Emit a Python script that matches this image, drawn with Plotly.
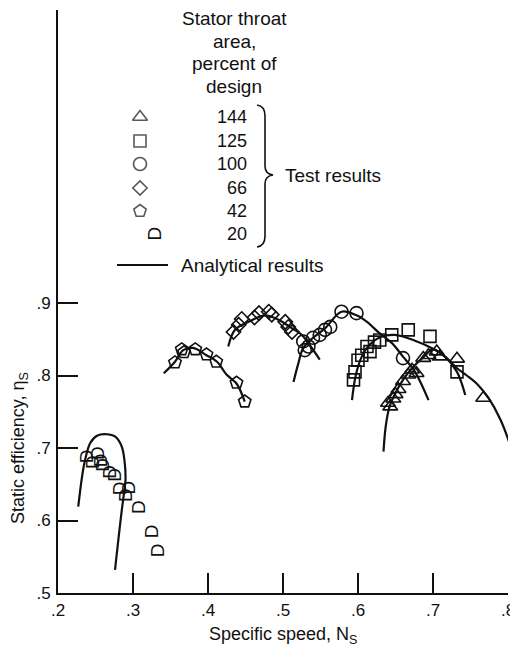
import plotly.graph_objects as go

# ---------------- data ----------------
# Test results: specific speed Ns, static efficiency eta_s, by stator throat area (% of design)
ns_144 = [0.640, 0.643, 0.647, 0.650, 0.654, 0.660, 0.667, 0.672, 0.678, 0.687, 0.694, 0.705, 0.709, 0.732, 0.767]
eta_144 = [0.762, 0.757, 0.768, 0.774, 0.781, 0.792, 0.801, 0.808, 0.803, 0.824, 0.828, 0.833, 0.826, 0.823, 0.769]

ns_125 = [0.594, 0.596, 0.600, 0.605, 0.612, 0.616, 0.622, 0.629, 0.645, 0.667, 0.696, 0.732]
eta_125 = [0.794, 0.805, 0.821, 0.828, 0.840, 0.833, 0.846, 0.849, 0.856, 0.863, 0.854, 0.805]

ns_100 = [0.527, 0.529, 0.534, 0.540, 0.549, 0.556, 0.563, 0.578, 0.598, 0.660]
eta_100 = [0.847, 0.835, 0.840, 0.852, 0.856, 0.863, 0.867, 0.888, 0.886, 0.824]

ns_66 = [0.434, 0.441, 0.445, 0.462, 0.468, 0.481, 0.485, 0.503, 0.507, 0.512]
eta_66 = [0.860, 0.870, 0.878, 0.880, 0.886, 0.888, 0.884, 0.874, 0.867, 0.860]

ns_42 = [0.356, 0.365, 0.368, 0.383, 0.398, 0.411, 0.438, 0.449]
eta_42 = [0.818, 0.836, 0.832, 0.836, 0.829, 0.819, 0.790, 0.764]

ns_20 = [0.238, 0.247, 0.252, 0.256, 0.260, 0.269, 0.276, 0.283, 0.289, 0.294, 0.307, 0.325, 0.332]
eta_20 = [0.688, 0.681, 0.693, 0.683, 0.677, 0.667, 0.663, 0.645, 0.635, 0.645, 0.619, 0.585, 0.559]

# Analytical results (curves)
an_ns_144 = [0.634, 0.637, 0.642, 0.650, 0.660, 0.672, 0.688, 0.700, 0.716, 0.732, 0.745, 0.760, 0.774, 0.790, 0.803]
an_eta_144 = [0.695, 0.730, 0.757, 0.776, 0.794, 0.810, 0.826, 0.836, 0.826, 0.810, 0.800, 0.787, 0.769, 0.739, 0.704]

an_ns_125 = [0.592, 0.597, 0.605, 0.615, 0.630, 0.649, 0.676, 0.698, 0.716, 0.732, 0.743]
an_eta_125 = [0.766, 0.800, 0.826, 0.842, 0.853, 0.856, 0.848, 0.838, 0.826, 0.805, 0.773]

an_ns_100 = [0.514, 0.520, 0.527, 0.540, 0.556, 0.578, 0.598, 0.612, 0.629, 0.645, 0.660, 0.676, 0.694]
an_eta_100 = [0.791, 0.815, 0.838, 0.852, 0.865, 0.888, 0.883, 0.874, 0.858, 0.845, 0.826, 0.805, 0.766]

an_ns_66 = [0.427, 0.436, 0.454, 0.476, 0.494, 0.512, 0.525, 0.537, 0.549]
an_eta_66 = [0.840, 0.863, 0.874, 0.883, 0.877, 0.865, 0.856, 0.840, 0.822]

an_ns_42 = [0.341, 0.356, 0.367, 0.380, 0.398, 0.412, 0.425, 0.438, 0.449]
an_eta_42 = [0.803, 0.819, 0.835, 0.838, 0.828, 0.819, 0.801, 0.789, 0.764]

an_ns_20 = [0.227, 0.232, 0.236, 0.243, 0.252, 0.265, 0.276, 0.285, 0.289, 0.290, 0.288, 0.285, 0.280, 0.276]
an_eta_20 = [0.619, 0.660, 0.683, 0.707, 0.717, 0.719, 0.716, 0.702, 0.679, 0.656, 0.638, 0.614, 0.569, 0.532]

x_ticks = [0.2, 0.3, 0.4, 0.5, 0.6, 0.7, 0.8]
x_labels = [".2", ".3", ".4", ".5", ".6", ".7", ".8"]
y_ticks = [0.5, 0.6, 0.7, 0.8, 0.9]
y_labels = [".5", ".6", ".7", ".8", ".9"]

legend_areas = ["144", "125", "100", "66", "42", "20"]

# ---------------- layout helpers ----------------
# the page body has an 8px margin, so the figure is made 8px smaller and all
# page-pixel positions are shifted by that offset
OFF = 8
PAGE_W, PAGE_H = 518, 646
W, H = PAGE_W - OFF, PAGE_H - OFF
AX_L, AX_R, AX_T, AX_B = 58, 508, 10, 593          # plot area in page pixels
L, R, T, B = AX_L - OFF, PAGE_W - AX_R, AX_T - OFF, PAGE_H - AX_B
PW, PH = AX_R - AX_L, AX_B - AX_T
FONT = "Liberation Sans, Arial, sans-serif"
BLACK = "#111111"


def fx(p):
    return (p - AX_L) / PW


def fy(p):
    return (AX_B - p) / PH


fig = go.Figure()

# analytical curves
for xs, ys in [(an_ns_144, an_eta_144), (an_ns_125, an_eta_125), (an_ns_100, an_eta_100),
               (an_ns_66, an_eta_66), (an_ns_42, an_eta_42), (an_ns_20, an_eta_20)]:
    fig.add_trace(go.Scatter(x=xs, y=ys, mode="lines", line=dict(color=BLACK, width=2.2, shape="spline"),
                             showlegend=False, hoverinfo="skip"))

# test results markers
series = [
    (ns_144, eta_144, "triangle-up-open", 13),
    (ns_125, eta_125, "square-open", 12),
    (ns_100, eta_100, "circle-open", 13),
    (ns_66, eta_66, "diamond-open", 11),
    (ns_42, eta_42, "pentagon-open", 13),
]
for xs, ys, sym, sz in series:
    fig.add_trace(go.Scatter(x=xs, y=ys, mode="markers",
                             marker=dict(symbol=sym, size=sz, color=BLACK, line=dict(width=1.6, color=BLACK)),
                             showlegend=False, cliponaxis=False))

annotations = []
# 20 % : arch-shaped symbol drawn as a rotated "D"
for xv, yv in zip(ns_20, eta_20):
    annotations.append(dict(x=xv, y=yv, xref="x", yref="y", text="D", textangle=-90, showarrow=False,
                            font=dict(family=FONT, size=19, color=BLACK)))

# ---------------- legend (custom) ----------------
leg_rows = [117, 141, 164, 188, 211, 234]
leg_syms = [("triangle-up-open", 13), ("square-open", 12), ("circle-open", 13), ("diamond-open", 11),
            ("pentagon-open", 13)]
fig.add_trace(go.Scatter(x=[fx(140)] * 5, y=[fy(r) for r in leg_rows[:5]], mode="markers",
                         xaxis="x2", yaxis="y2",
                         marker=dict(symbol=[s for s, _ in leg_syms], size=[z for _, z in leg_syms], color=BLACK,
                                     line=dict(width=1.6, color=BLACK)),
                         showlegend=False, hoverinfo="skip", cliponaxis=False))
annotations.append(dict(x=fx(141), y=fy(leg_rows[5]), xref="paper", yref="paper", text="D", textangle=-90,
                        showarrow=False, font=dict(family=FONT, size=19, color=BLACK)))

for r, lab in zip(leg_rows, legend_areas):
    annotations.append(dict(x=fx(249), y=fy(r), xref="paper", yref="paper", text=lab, xanchor="right",
                            yanchor="middle", showarrow=False, font=dict(family=FONT, size=18, color=BLACK)))

for txt, yy in [("Stator throat", 18), ("area,", 41), ("percent of", 64), ("design", 87)]:
    annotations.append(dict(x=fx(234), y=fy(yy), xref="paper", yref="paper", text=txt, xanchor="center",
                            yanchor="middle", showarrow=False, font=dict(family=FONT, size=19, color=BLACK)))

annotations.append(dict(x=fx(283), y=fy(175), xref="paper", yref="paper", text="Test results", xanchor="left",
                        yanchor="middle", showarrow=False, font=dict(family=FONT, size=19, color=BLACK)))
annotations.append(dict(x=fx(179), y=fy(265), xref="paper", yref="paper", text="Analytical results",
                        xanchor="left", yanchor="middle", showarrow=False,
                        font=dict(family=FONT, size=19, color=BLACK)))

# axis titles
annotations.append(dict(x=fx(19), y=fy(448), xref="paper", yref="paper",
                        text="Static efficiency, η<sub>S</sub>", textangle=-90, showarrow=False,
                        xanchor="center", yanchor="middle", font=dict(family=FONT, size=18, color=BLACK)))
annotations.append(dict(x=fx(283), y=fy(635), xref="paper", yref="paper",
                        text="Specific speed, N<sub>S</sub>", showarrow=False,
                        xanchor="center", yanchor="middle", font=dict(family=FONT, size=18, color=BLACK)))

# brace
pts = [(257, 105), (265, 106), (265, 116), (265, 166), (265, 174), (273, 175), (265, 176), (265, 184),
       (265, 236), (265, 246), (257, 247)]
P = [(fx(a), fy(b)) for a, b in pts]
path = (f"M {P[0][0]},{P[0][1]} Q {P[1][0]},{P[1][1]} {P[2][0]},{P[2][1]} L {P[3][0]},{P[3][1]} "
        f"Q {P[4][0]},{P[4][1]} {P[5][0]},{P[5][1]} Q {P[6][0]},{P[6][1]} {P[7][0]},{P[7][1]} "
        f"L {P[8][0]},{P[8][1]} Q {P[9][0]},{P[9][1]} {P[10][0]},{P[10][1]}")
shapes = [
    dict(type="path", path=path, xref="paper", yref="paper", line=dict(color=BLACK, width=1.6)),
    dict(type="line", xref="paper", yref="paper", x0=fx(117), x1=fx(168), y0=fy(265), y1=fy(265),
         line=dict(color=BLACK, width=2.2)),
]

fig.update_layout(
    width=W, height=H,
    margin=dict(l=L, r=R, t=T, b=B, pad=0, autoexpand=False),
    paper_bgcolor="white", plot_bgcolor="white",
    showlegend=False,
    font=dict(family=FONT, size=17, color=BLACK),
    xaxis=dict(range=[0.2, 0.8], tickvals=x_ticks, ticktext=x_labels, ticks="inside", ticklen=20, tickwidth=1.8,
               tickcolor=BLACK, showline=True, linecolor=BLACK, linewidth=1.6, showgrid=False, zeroline=False,
               tickfont=dict(family=FONT, size=17, color=BLACK), ticklabelstandoff=1, automargin=False,
               ticklabeloverflow="allow"),
    yaxis=dict(range=[0.5, 0.5 + PH / 725.0], tickvals=y_ticks, ticktext=y_labels, ticks="inside", ticklen=20,
               tickwidth=1.8, tickcolor=BLACK, showline=True, linecolor=BLACK, linewidth=2, showgrid=False,
               zeroline=False, tickfont=dict(family=FONT, size=17, color=BLACK), ticklabelstandoff=2,
               automargin=False, ticklabeloverflow="allow"),
    xaxis2=dict(range=[0, 1], overlaying="x", anchor="y2", visible=False),
    yaxis2=dict(range=[0, 1], overlaying="y", anchor="x2", visible=False),
    annotations=annotations,
    shapes=shapes,
)

fig.write_html("out.html")
